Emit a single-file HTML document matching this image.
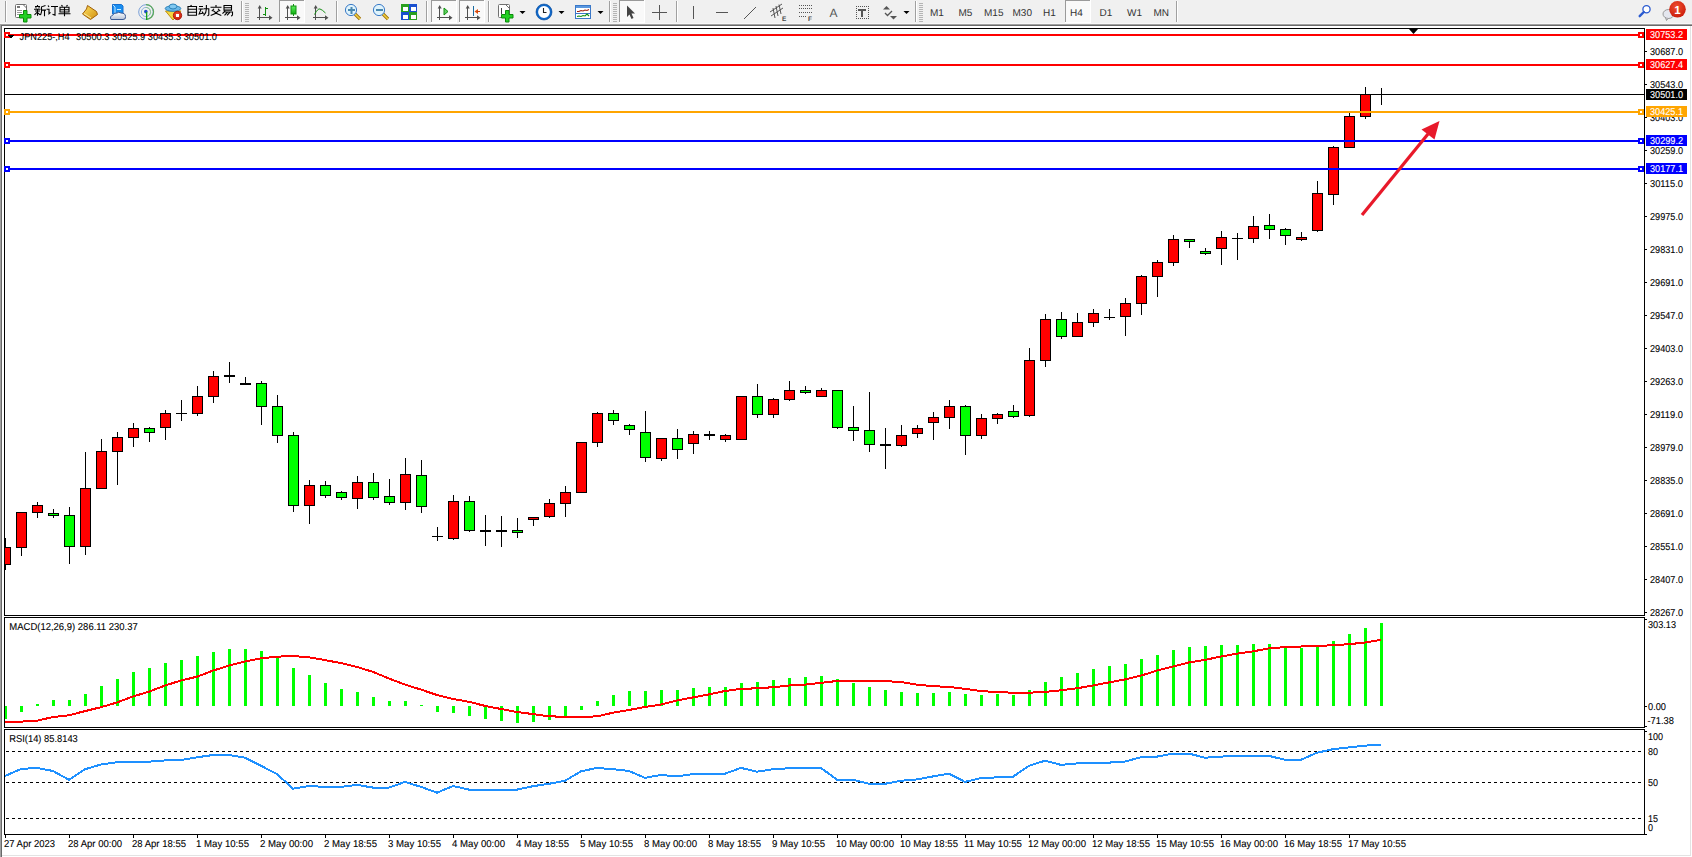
<!DOCTYPE html>
<html><head><meta charset="utf-8"><title>MT4</title>
<style>
html,body{margin:0;padding:0;background:#fff;}
body{width:1692px;height:857px;overflow:hidden;position:relative;font-family:"Liberation Sans", sans-serif;}
svg{position:absolute;left:0;top:0;display:block;}
svg text{font-family:"Liberation Sans", sans-serif;text-rendering:geometricPrecision;}
</style></head><body>
<svg width="1692" height="857" viewBox="0 0 1692 857" shape-rendering="crispEdges">
<rect x="0" y="0" width="1692" height="24" fill="#f0f0f0"/>
<rect x="0" y="23" width="1692" height="1" fill="#f7f7f7"/>
<rect x="0" y="24" width="1692" height="1" fill="#a0a0a0"/>
<rect x="0" y="25" width="1692" height="1" fill="#696969"/>
<rect x="0" y="24" width="1" height="833" fill="#a0a0a0"/>
<rect x="1" y="25" width="1" height="832" fill="#696969"/>
<rect x="1690" y="26" width="1" height="830" fill="#e3e3e3"/>
<rect x="2" y="855" width="1689" height="1" fill="#e3e3e3"/>
<rect x="4" y="28" width="1641" height="1" fill="#000"/>
<rect x="4" y="615" width="1641" height="1" fill="#000"/>
<rect x="4" y="28" width="1" height="588" fill="#000"/>
<rect x="1644" y="28" width="1" height="588" fill="#000"/>
<rect x="4" y="617" width="1641" height="1" fill="#000"/>
<rect x="4" y="727" width="1641" height="1" fill="#000"/>
<rect x="4" y="617" width="1" height="111" fill="#000"/>
<rect x="1644" y="617" width="1" height="111" fill="#000"/>
<rect x="4" y="729" width="1641" height="1" fill="#000"/>
<rect x="4" y="834" width="1641" height="1" fill="#000"/>
<rect x="4" y="729" width="1" height="106" fill="#000"/>
<rect x="1644" y="729" width="1" height="106" fill="#000"/>
<defs><clipPath id="cm"><rect x="5" y="29" width="1639" height="586"/></clipPath><clipPath id="cd"><rect x="5" y="618" width="1639" height="109"/></clipPath><clipPath id="cr"><rect x="5" y="730" width="1639" height="104"/></clipPath></defs>
<rect x="1645" y="51" width="2" height="1" fill="#000"/>
<text x="1650" y="55" font-size="10.0" fill="#000" stroke="#000" stroke-width="0.1" textLength="33" lengthAdjust="spacingAndGlyphs">30687.0</text>
<rect x="1645" y="84" width="2" height="1" fill="#000"/>
<text x="1650" y="88" font-size="10.0" fill="#000" stroke="#000" stroke-width="0.1" textLength="33" lengthAdjust="spacingAndGlyphs">30543.0</text>
<rect x="1645" y="117" width="2" height="1" fill="#000"/>
<text x="1650" y="121" font-size="10.0" fill="#000" stroke="#000" stroke-width="0.1" textLength="33" lengthAdjust="spacingAndGlyphs">30403.0</text>
<rect x="1645" y="150" width="2" height="1" fill="#000"/>
<text x="1650" y="154" font-size="10.0" fill="#000" stroke="#000" stroke-width="0.1" textLength="33" lengthAdjust="spacingAndGlyphs">30259.0</text>
<rect x="1645" y="183" width="2" height="1" fill="#000"/>
<text x="1650" y="187" font-size="10.0" fill="#000" stroke="#000" stroke-width="0.1" textLength="33" lengthAdjust="spacingAndGlyphs">30115.0</text>
<rect x="1645" y="216" width="2" height="1" fill="#000"/>
<text x="1650" y="220" font-size="10.0" fill="#000" stroke="#000" stroke-width="0.1" textLength="33" lengthAdjust="spacingAndGlyphs">29975.0</text>
<rect x="1645" y="249" width="2" height="1" fill="#000"/>
<text x="1650" y="253" font-size="10.0" fill="#000" stroke="#000" stroke-width="0.1" textLength="33" lengthAdjust="spacingAndGlyphs">29831.0</text>
<rect x="1645" y="282" width="2" height="1" fill="#000"/>
<text x="1650" y="286" font-size="10.0" fill="#000" stroke="#000" stroke-width="0.1" textLength="33" lengthAdjust="spacingAndGlyphs">29691.0</text>
<rect x="1645" y="315" width="2" height="1" fill="#000"/>
<text x="1650" y="319" font-size="10.0" fill="#000" stroke="#000" stroke-width="0.1" textLength="33" lengthAdjust="spacingAndGlyphs">29547.0</text>
<rect x="1645" y="348" width="2" height="1" fill="#000"/>
<text x="1650" y="352" font-size="10.0" fill="#000" stroke="#000" stroke-width="0.1" textLength="33" lengthAdjust="spacingAndGlyphs">29403.0</text>
<rect x="1645" y="381" width="2" height="1" fill="#000"/>
<text x="1650" y="385" font-size="10.0" fill="#000" stroke="#000" stroke-width="0.1" textLength="33" lengthAdjust="spacingAndGlyphs">29263.0</text>
<rect x="1645" y="414" width="2" height="1" fill="#000"/>
<text x="1650" y="418" font-size="10.0" fill="#000" stroke="#000" stroke-width="0.1" textLength="33" lengthAdjust="spacingAndGlyphs">29119.0</text>
<rect x="1645" y="447" width="2" height="1" fill="#000"/>
<text x="1650" y="451" font-size="10.0" fill="#000" stroke="#000" stroke-width="0.1" textLength="33" lengthAdjust="spacingAndGlyphs">28979.0</text>
<rect x="1645" y="480" width="2" height="1" fill="#000"/>
<text x="1650" y="484" font-size="10.0" fill="#000" stroke="#000" stroke-width="0.1" textLength="33" lengthAdjust="spacingAndGlyphs">28835.0</text>
<rect x="1645" y="513" width="2" height="1" fill="#000"/>
<text x="1650" y="517" font-size="10.0" fill="#000" stroke="#000" stroke-width="0.1" textLength="33" lengthAdjust="spacingAndGlyphs">28691.0</text>
<rect x="1645" y="546" width="2" height="1" fill="#000"/>
<text x="1650" y="550" font-size="10.0" fill="#000" stroke="#000" stroke-width="0.1" textLength="33" lengthAdjust="spacingAndGlyphs">28551.0</text>
<rect x="1645" y="579" width="2" height="1" fill="#000"/>
<text x="1650" y="583" font-size="10.0" fill="#000" stroke="#000" stroke-width="0.1" textLength="33" lengthAdjust="spacingAndGlyphs">28407.0</text>
<rect x="1645" y="612" width="2" height="1" fill="#000"/>
<text x="1650" y="616" font-size="10.0" fill="#000" stroke="#000" stroke-width="0.1" textLength="33" lengthAdjust="spacingAndGlyphs">28267.0</text>
<g clip-path="url(#cm)">
<rect x="5" y="538" width="1" height="32" fill="#000"/>
<rect x="0" y="547" width="11" height="18" fill="#000"/>
<rect x="1" y="548" width="9" height="16" fill="#ff0000"/>
<rect x="21" y="512" width="1" height="44" fill="#000"/>
<rect x="16" y="512" width="11" height="36" fill="#000"/>
<rect x="17" y="513" width="9" height="34" fill="#ff0000"/>
<rect x="37" y="502" width="1" height="16" fill="#000"/>
<rect x="32" y="505" width="11" height="8" fill="#000"/>
<rect x="33" y="506" width="9" height="6" fill="#ff0000"/>
<rect x="53" y="509" width="1" height="9" fill="#000"/>
<rect x="48" y="513" width="11" height="3" fill="#000"/>
<rect x="49" y="514" width="9" height="1" fill="#00ff00"/>
<rect x="69" y="507" width="1" height="57" fill="#000"/>
<rect x="64" y="515" width="11" height="32" fill="#000"/>
<rect x="65" y="516" width="9" height="30" fill="#00ff00"/>
<rect x="85" y="452" width="1" height="103" fill="#000"/>
<rect x="80" y="488" width="11" height="59" fill="#000"/>
<rect x="81" y="489" width="9" height="57" fill="#ff0000"/>
<rect x="101" y="439" width="1" height="49" fill="#000"/>
<rect x="96" y="451" width="11" height="38" fill="#000"/>
<rect x="97" y="452" width="9" height="36" fill="#ff0000"/>
<rect x="117" y="432" width="1" height="53" fill="#000"/>
<rect x="112" y="437" width="11" height="15" fill="#000"/>
<rect x="113" y="438" width="9" height="13" fill="#ff0000"/>
<rect x="133" y="423" width="1" height="24" fill="#000"/>
<rect x="128" y="428" width="11" height="10" fill="#000"/>
<rect x="129" y="429" width="9" height="8" fill="#ff0000"/>
<rect x="149" y="427" width="1" height="15" fill="#000"/>
<rect x="144" y="428" width="11" height="5" fill="#000"/>
<rect x="145" y="429" width="9" height="3" fill="#00ff00"/>
<rect x="165" y="410" width="1" height="30" fill="#000"/>
<rect x="160" y="413" width="11" height="15" fill="#000"/>
<rect x="161" y="414" width="9" height="13" fill="#ff0000"/>
<rect x="181" y="400" width="1" height="21" fill="#000"/>
<rect x="176" y="413" width="11" height="1" fill="#000"/>
<rect x="197" y="386" width="1" height="30" fill="#000"/>
<rect x="192" y="396" width="11" height="18" fill="#000"/>
<rect x="193" y="397" width="9" height="16" fill="#ff0000"/>
<rect x="213" y="371" width="1" height="32" fill="#000"/>
<rect x="208" y="376" width="11" height="21" fill="#000"/>
<rect x="209" y="377" width="9" height="19" fill="#ff0000"/>
<rect x="229" y="362" width="1" height="21" fill="#000"/>
<rect x="224" y="375" width="11" height="2" fill="#000"/>
<rect x="245" y="377" width="1" height="8" fill="#000"/>
<rect x="240" y="383" width="11" height="2" fill="#000"/>
<rect x="261" y="381" width="1" height="44" fill="#000"/>
<rect x="256" y="383" width="11" height="24" fill="#000"/>
<rect x="257" y="384" width="9" height="22" fill="#00ff00"/>
<rect x="277" y="395" width="1" height="48" fill="#000"/>
<rect x="272" y="406" width="11" height="30" fill="#000"/>
<rect x="273" y="407" width="9" height="28" fill="#00ff00"/>
<rect x="293" y="432" width="1" height="80" fill="#000"/>
<rect x="288" y="435" width="11" height="71" fill="#000"/>
<rect x="289" y="436" width="9" height="69" fill="#00ff00"/>
<rect x="309" y="480" width="1" height="44" fill="#000"/>
<rect x="304" y="485" width="11" height="21" fill="#000"/>
<rect x="305" y="486" width="9" height="19" fill="#ff0000"/>
<rect x="325" y="481" width="1" height="17" fill="#000"/>
<rect x="320" y="485" width="11" height="11" fill="#000"/>
<rect x="321" y="486" width="9" height="9" fill="#00ff00"/>
<rect x="341" y="491" width="1" height="9" fill="#000"/>
<rect x="336" y="492" width="11" height="6" fill="#000"/>
<rect x="337" y="493" width="9" height="4" fill="#00ff00"/>
<rect x="357" y="476" width="1" height="33" fill="#000"/>
<rect x="352" y="482" width="11" height="17" fill="#000"/>
<rect x="353" y="483" width="9" height="15" fill="#ff0000"/>
<rect x="373" y="473" width="1" height="27" fill="#000"/>
<rect x="368" y="482" width="11" height="16" fill="#000"/>
<rect x="369" y="483" width="9" height="14" fill="#00ff00"/>
<rect x="389" y="479" width="1" height="26" fill="#000"/>
<rect x="384" y="496" width="11" height="7" fill="#000"/>
<rect x="385" y="497" width="9" height="5" fill="#00ff00"/>
<rect x="405" y="458" width="1" height="52" fill="#000"/>
<rect x="400" y="474" width="11" height="29" fill="#000"/>
<rect x="401" y="475" width="9" height="27" fill="#ff0000"/>
<rect x="421" y="460" width="1" height="53" fill="#000"/>
<rect x="416" y="475" width="11" height="32" fill="#000"/>
<rect x="417" y="476" width="9" height="30" fill="#00ff00"/>
<rect x="437" y="527" width="1" height="14" fill="#000"/>
<rect x="432" y="536" width="11" height="1" fill="#000"/>
<rect x="453" y="495" width="1" height="45" fill="#000"/>
<rect x="448" y="501" width="11" height="38" fill="#000"/>
<rect x="449" y="502" width="9" height="36" fill="#ff0000"/>
<rect x="469" y="496" width="1" height="36" fill="#000"/>
<rect x="464" y="501" width="11" height="30" fill="#000"/>
<rect x="465" y="502" width="9" height="28" fill="#00ff00"/>
<rect x="485" y="515" width="1" height="31" fill="#000"/>
<rect x="480" y="530" width="11" height="2" fill="#000"/>
<rect x="501" y="516" width="1" height="31" fill="#000"/>
<rect x="496" y="530" width="11" height="2" fill="#000"/>
<rect x="517" y="518" width="1" height="20" fill="#000"/>
<rect x="512" y="530" width="11" height="3" fill="#000"/>
<rect x="513" y="531" width="9" height="1" fill="#00ff00"/>
<rect x="533" y="517" width="1" height="9" fill="#000"/>
<rect x="528" y="517" width="11" height="3" fill="#000"/>
<rect x="529" y="518" width="9" height="1" fill="#ff0000"/>
<rect x="549" y="499" width="1" height="19" fill="#000"/>
<rect x="544" y="503" width="11" height="14" fill="#000"/>
<rect x="545" y="504" width="9" height="12" fill="#ff0000"/>
<rect x="565" y="486" width="1" height="31" fill="#000"/>
<rect x="560" y="492" width="11" height="12" fill="#000"/>
<rect x="561" y="493" width="9" height="10" fill="#ff0000"/>
<rect x="581" y="442" width="1" height="51" fill="#000"/>
<rect x="576" y="442" width="11" height="51" fill="#000"/>
<rect x="577" y="443" width="9" height="49" fill="#ff0000"/>
<rect x="597" y="412" width="1" height="35" fill="#000"/>
<rect x="592" y="413" width="11" height="30" fill="#000"/>
<rect x="593" y="414" width="9" height="28" fill="#ff0000"/>
<rect x="613" y="410" width="1" height="15" fill="#000"/>
<rect x="608" y="413" width="11" height="8" fill="#000"/>
<rect x="609" y="414" width="9" height="6" fill="#00ff00"/>
<rect x="629" y="424" width="1" height="11" fill="#000"/>
<rect x="624" y="425" width="11" height="5" fill="#000"/>
<rect x="625" y="426" width="9" height="3" fill="#00ff00"/>
<rect x="645" y="411" width="1" height="51" fill="#000"/>
<rect x="640" y="432" width="11" height="26" fill="#000"/>
<rect x="641" y="433" width="9" height="24" fill="#00ff00"/>
<rect x="661" y="438" width="1" height="23" fill="#000"/>
<rect x="656" y="438" width="11" height="21" fill="#000"/>
<rect x="657" y="439" width="9" height="19" fill="#ff0000"/>
<rect x="677" y="429" width="1" height="30" fill="#000"/>
<rect x="672" y="438" width="11" height="12" fill="#000"/>
<rect x="673" y="439" width="9" height="10" fill="#00ff00"/>
<rect x="693" y="431" width="1" height="23" fill="#000"/>
<rect x="688" y="434" width="11" height="10" fill="#000"/>
<rect x="689" y="435" width="9" height="8" fill="#ff0000"/>
<rect x="709" y="431" width="1" height="9" fill="#000"/>
<rect x="704" y="434" width="11" height="2" fill="#000"/>
<rect x="725" y="434" width="1" height="8" fill="#000"/>
<rect x="720" y="435" width="11" height="5" fill="#000"/>
<rect x="721" y="436" width="9" height="3" fill="#ff0000"/>
<rect x="741" y="396" width="1" height="44" fill="#000"/>
<rect x="736" y="396" width="11" height="44" fill="#000"/>
<rect x="737" y="397" width="9" height="42" fill="#ff0000"/>
<rect x="757" y="384" width="1" height="34" fill="#000"/>
<rect x="752" y="396" width="11" height="19" fill="#000"/>
<rect x="753" y="397" width="9" height="17" fill="#00ff00"/>
<rect x="773" y="398" width="1" height="20" fill="#000"/>
<rect x="768" y="399" width="11" height="16" fill="#000"/>
<rect x="769" y="400" width="9" height="14" fill="#ff0000"/>
<rect x="789" y="381" width="1" height="20" fill="#000"/>
<rect x="784" y="390" width="11" height="10" fill="#000"/>
<rect x="785" y="391" width="9" height="8" fill="#ff0000"/>
<rect x="805" y="386" width="1" height="8" fill="#000"/>
<rect x="800" y="390" width="11" height="3" fill="#000"/>
<rect x="801" y="391" width="9" height="1" fill="#00ff00"/>
<rect x="821" y="388" width="1" height="8" fill="#000"/>
<rect x="816" y="390" width="11" height="7" fill="#000"/>
<rect x="817" y="391" width="9" height="5" fill="#ff0000"/>
<rect x="837" y="390" width="1" height="39" fill="#000"/>
<rect x="832" y="390" width="11" height="38" fill="#000"/>
<rect x="833" y="391" width="9" height="36" fill="#00ff00"/>
<rect x="853" y="406" width="1" height="35" fill="#000"/>
<rect x="848" y="427" width="11" height="4" fill="#000"/>
<rect x="849" y="428" width="9" height="2" fill="#00ff00"/>
<rect x="869" y="392" width="1" height="60" fill="#000"/>
<rect x="864" y="430" width="11" height="15" fill="#000"/>
<rect x="865" y="431" width="9" height="13" fill="#00ff00"/>
<rect x="885" y="428" width="1" height="41" fill="#000"/>
<rect x="880" y="444" width="11" height="2" fill="#000"/>
<rect x="901" y="425" width="1" height="22" fill="#000"/>
<rect x="896" y="435" width="11" height="11" fill="#000"/>
<rect x="897" y="436" width="9" height="9" fill="#ff0000"/>
<rect x="917" y="425" width="1" height="13" fill="#000"/>
<rect x="912" y="428" width="11" height="6" fill="#000"/>
<rect x="913" y="429" width="9" height="4" fill="#ff0000"/>
<rect x="933" y="412" width="1" height="28" fill="#000"/>
<rect x="928" y="417" width="11" height="6" fill="#000"/>
<rect x="929" y="418" width="9" height="4" fill="#ff0000"/>
<rect x="949" y="400" width="1" height="29" fill="#000"/>
<rect x="944" y="406" width="11" height="12" fill="#000"/>
<rect x="945" y="407" width="9" height="10" fill="#ff0000"/>
<rect x="965" y="405" width="1" height="50" fill="#000"/>
<rect x="960" y="406" width="11" height="30" fill="#000"/>
<rect x="961" y="407" width="9" height="28" fill="#00ff00"/>
<rect x="981" y="414" width="1" height="25" fill="#000"/>
<rect x="976" y="418" width="11" height="18" fill="#000"/>
<rect x="977" y="419" width="9" height="16" fill="#ff0000"/>
<rect x="997" y="413" width="1" height="11" fill="#000"/>
<rect x="992" y="414" width="11" height="5" fill="#000"/>
<rect x="993" y="415" width="9" height="3" fill="#ff0000"/>
<rect x="1013" y="405" width="1" height="13" fill="#000"/>
<rect x="1008" y="411" width="11" height="6" fill="#000"/>
<rect x="1009" y="412" width="9" height="4" fill="#00ff00"/>
<rect x="1029" y="348" width="1" height="69" fill="#000"/>
<rect x="1024" y="360" width="11" height="56" fill="#000"/>
<rect x="1025" y="361" width="9" height="54" fill="#ff0000"/>
<rect x="1045" y="314" width="1" height="53" fill="#000"/>
<rect x="1040" y="319" width="11" height="42" fill="#000"/>
<rect x="1041" y="320" width="9" height="40" fill="#ff0000"/>
<rect x="1061" y="312" width="1" height="27" fill="#000"/>
<rect x="1056" y="319" width="11" height="18" fill="#000"/>
<rect x="1057" y="320" width="9" height="16" fill="#00ff00"/>
<rect x="1077" y="313" width="1" height="24" fill="#000"/>
<rect x="1072" y="322" width="11" height="15" fill="#000"/>
<rect x="1073" y="323" width="9" height="13" fill="#ff0000"/>
<rect x="1093" y="309" width="1" height="18" fill="#000"/>
<rect x="1088" y="313" width="11" height="10" fill="#000"/>
<rect x="1089" y="314" width="9" height="8" fill="#ff0000"/>
<rect x="1109" y="309" width="1" height="11" fill="#000"/>
<rect x="1104" y="317" width="11" height="1" fill="#000"/>
<rect x="1125" y="298" width="1" height="38" fill="#000"/>
<rect x="1120" y="303" width="11" height="14" fill="#000"/>
<rect x="1121" y="304" width="9" height="12" fill="#ff0000"/>
<rect x="1141" y="275" width="1" height="40" fill="#000"/>
<rect x="1136" y="276" width="11" height="28" fill="#000"/>
<rect x="1137" y="277" width="9" height="26" fill="#ff0000"/>
<rect x="1157" y="260" width="1" height="37" fill="#000"/>
<rect x="1152" y="262" width="11" height="15" fill="#000"/>
<rect x="1153" y="263" width="9" height="13" fill="#ff0000"/>
<rect x="1173" y="235" width="1" height="31" fill="#000"/>
<rect x="1168" y="239" width="11" height="24" fill="#000"/>
<rect x="1169" y="240" width="9" height="22" fill="#ff0000"/>
<rect x="1189" y="239" width="1" height="9" fill="#000"/>
<rect x="1184" y="239" width="11" height="3" fill="#000"/>
<rect x="1185" y="240" width="9" height="1" fill="#00ff00"/>
<rect x="1205" y="248" width="1" height="7" fill="#000"/>
<rect x="1200" y="251" width="11" height="3" fill="#000"/>
<rect x="1201" y="252" width="9" height="1" fill="#00ff00"/>
<rect x="1221" y="231" width="1" height="34" fill="#000"/>
<rect x="1216" y="237" width="11" height="12" fill="#000"/>
<rect x="1217" y="238" width="9" height="10" fill="#ff0000"/>
<rect x="1237" y="233" width="1" height="27" fill="#000"/>
<rect x="1232" y="238" width="11" height="1" fill="#000"/>
<rect x="1253" y="216" width="1" height="27" fill="#000"/>
<rect x="1248" y="226" width="11" height="13" fill="#000"/>
<rect x="1249" y="227" width="9" height="11" fill="#ff0000"/>
<rect x="1269" y="214" width="1" height="25" fill="#000"/>
<rect x="1264" y="225" width="11" height="5" fill="#000"/>
<rect x="1265" y="226" width="9" height="3" fill="#00ff00"/>
<rect x="1285" y="228" width="1" height="17" fill="#000"/>
<rect x="1280" y="229" width="11" height="7" fill="#000"/>
<rect x="1281" y="230" width="9" height="5" fill="#00ff00"/>
<rect x="1301" y="232" width="1" height="9" fill="#000"/>
<rect x="1296" y="237" width="11" height="3" fill="#000"/>
<rect x="1297" y="238" width="9" height="1" fill="#ff0000"/>
<rect x="1317" y="181" width="1" height="51" fill="#000"/>
<rect x="1312" y="193" width="11" height="38" fill="#000"/>
<rect x="1313" y="194" width="9" height="36" fill="#ff0000"/>
<rect x="1333" y="146" width="1" height="59" fill="#000"/>
<rect x="1328" y="147" width="11" height="48" fill="#000"/>
<rect x="1329" y="148" width="9" height="46" fill="#ff0000"/>
<rect x="1349" y="113" width="1" height="35" fill="#000"/>
<rect x="1344" y="116" width="11" height="32" fill="#000"/>
<rect x="1345" y="117" width="9" height="30" fill="#ff0000"/>
<rect x="1365" y="87" width="1" height="32" fill="#000"/>
<rect x="1360" y="94" width="11" height="23" fill="#000"/>
<rect x="1361" y="95" width="9" height="21" fill="#ff0000"/>
<rect x="1381" y="88" width="1" height="17" fill="#000"/>
<rect x="1376" y="94" width="11" height="1" fill="#000"/>
</g>
<rect x="5" y="34" width="1639" height="2" fill="#ff0000"/>
<rect x="4" y="32" width="6" height="6" fill="#ff0000"/>
<rect x="6" y="34" width="2" height="2" fill="#fff"/>
<rect x="1638" y="32" width="6" height="6" fill="#ff0000"/>
<rect x="1640" y="34" width="2" height="2" fill="#fff"/>
<rect x="5" y="64" width="1639" height="2" fill="#ff0000"/>
<rect x="4" y="62" width="6" height="6" fill="#ff0000"/>
<rect x="6" y="64" width="2" height="2" fill="#fff"/>
<rect x="1638" y="62" width="6" height="6" fill="#ff0000"/>
<rect x="1640" y="64" width="2" height="2" fill="#fff"/>
<rect x="5" y="94" width="1639" height="1" fill="#000"/>
<rect x="5" y="111" width="1639" height="2" fill="#ffa500"/>
<rect x="4" y="109" width="6" height="6" fill="#ffa500"/>
<rect x="6" y="111" width="2" height="2" fill="#fff"/>
<rect x="1638" y="109" width="6" height="6" fill="#ffa500"/>
<rect x="1640" y="111" width="2" height="2" fill="#fff"/>
<rect x="5" y="140" width="1639" height="2" fill="#0000ff"/>
<rect x="4" y="138" width="6" height="6" fill="#0000ff"/>
<rect x="6" y="140" width="2" height="2" fill="#fff"/>
<rect x="1638" y="138" width="6" height="6" fill="#0000ff"/>
<rect x="1640" y="140" width="2" height="2" fill="#fff"/>
<rect x="5" y="168" width="1639" height="2" fill="#0000ff"/>
<rect x="4" y="166" width="6" height="6" fill="#0000ff"/>
<rect x="6" y="168" width="2" height="2" fill="#fff"/>
<rect x="1638" y="166" width="6" height="6" fill="#0000ff"/>
<rect x="1640" y="168" width="2" height="2" fill="#fff"/>
<rect x="1646" y="29" width="41" height="11" fill="#ff0000"/>
<text x="1650" y="38" font-size="10.0" fill="#fff" stroke="#fff" stroke-width="0.1" textLength="33" lengthAdjust="spacingAndGlyphs">30753.2</text>
<rect x="1646" y="59" width="41" height="11" fill="#ff0000"/>
<text x="1650" y="68" font-size="10.0" fill="#fff" stroke="#fff" stroke-width="0.1" textLength="33" lengthAdjust="spacingAndGlyphs">30627.4</text>
<rect x="1646" y="89" width="41" height="11" fill="#000000"/>
<text x="1650" y="98" font-size="10.0" fill="#fff" stroke="#fff" stroke-width="0.1" textLength="33" lengthAdjust="spacingAndGlyphs">30501.0</text>
<rect x="1646" y="106" width="41" height="11" fill="#ffa500"/>
<text x="1650" y="115" font-size="10.0" fill="#fff" stroke="#fff" stroke-width="0.1" textLength="33" lengthAdjust="spacingAndGlyphs">30425.1</text>
<rect x="1646" y="135" width="41" height="11" fill="#0000ff"/>
<text x="1650" y="144" font-size="10.0" fill="#fff" stroke="#fff" stroke-width="0.1" textLength="33" lengthAdjust="spacingAndGlyphs">30299.2</text>
<rect x="1646" y="163" width="41" height="11" fill="#0000ff"/>
<text x="1650" y="172" font-size="10.0" fill="#fff" stroke="#fff" stroke-width="0.1" textLength="33" lengthAdjust="spacingAndGlyphs">30177.1</text>
<polygon points="1408.5,28.5 1418.5,28.5 1413.5,34" fill="#000" shape-rendering="auto"/>
<polygon points="8,35 14,35 11,39" fill="#000"/>
<text x="19.6" y="40" font-size="10.0" fill="#000" stroke="#000" stroke-width="0.1" textLength="50.0" lengthAdjust="spacingAndGlyphs">JPN225-,H4</text>
<text x="76" y="40" font-size="10.0" fill="#000" stroke="#000" stroke-width="0.1" textLength="141" lengthAdjust="spacingAndGlyphs">30500.3 30525.9 30435.3 30501.0</text>
<g shape-rendering="auto"><line x1="1362" y1="215" x2="1428" y2="134" stroke="#e8192a" stroke-width="3.2"/><polygon points="1439.5,121 1421.5,129.5 1434.5,139.5" fill="#e8192a"/></g>
<g clip-path="url(#cd)">
<rect x="4" y="706" width="3" height="13" fill="#00ff00"/>
<rect x="20" y="706" width="3" height="6" fill="#00ff00"/>
<rect x="36" y="704" width="3" height="2" fill="#00ff00"/>
<rect x="52" y="700" width="3" height="6" fill="#00ff00"/>
<rect x="68" y="700" width="3" height="6" fill="#00ff00"/>
<rect x="84" y="694" width="3" height="12" fill="#00ff00"/>
<rect x="100" y="686" width="3" height="20" fill="#00ff00"/>
<rect x="116" y="679" width="3" height="27" fill="#00ff00"/>
<rect x="132" y="672" width="3" height="34" fill="#00ff00"/>
<rect x="148" y="668" width="3" height="38" fill="#00ff00"/>
<rect x="164" y="663" width="3" height="43" fill="#00ff00"/>
<rect x="180" y="660" width="3" height="46" fill="#00ff00"/>
<rect x="196" y="656" width="3" height="50" fill="#00ff00"/>
<rect x="212" y="652" width="3" height="54" fill="#00ff00"/>
<rect x="228" y="649" width="3" height="57" fill="#00ff00"/>
<rect x="244" y="649" width="3" height="57" fill="#00ff00"/>
<rect x="260" y="651" width="3" height="55" fill="#00ff00"/>
<rect x="276" y="657" width="3" height="49" fill="#00ff00"/>
<rect x="292" y="668" width="3" height="38" fill="#00ff00"/>
<rect x="308" y="675" width="3" height="31" fill="#00ff00"/>
<rect x="324" y="683" width="3" height="23" fill="#00ff00"/>
<rect x="340" y="689" width="3" height="17" fill="#00ff00"/>
<rect x="356" y="692" width="3" height="14" fill="#00ff00"/>
<rect x="372" y="697" width="3" height="9" fill="#00ff00"/>
<rect x="388" y="701" width="3" height="5" fill="#00ff00"/>
<rect x="404" y="701" width="3" height="5" fill="#00ff00"/>
<rect x="420" y="705" width="3" height="1" fill="#00ff00"/>
<rect x="436" y="706" width="3" height="6" fill="#00ff00"/>
<rect x="452" y="706" width="3" height="7" fill="#00ff00"/>
<rect x="468" y="706" width="3" height="10" fill="#00ff00"/>
<rect x="484" y="706" width="3" height="13" fill="#00ff00"/>
<rect x="500" y="706" width="3" height="15" fill="#00ff00"/>
<rect x="516" y="706" width="3" height="17" fill="#00ff00"/>
<rect x="532" y="706" width="3" height="16" fill="#00ff00"/>
<rect x="548" y="706" width="3" height="14" fill="#00ff00"/>
<rect x="564" y="706" width="3" height="10" fill="#00ff00"/>
<rect x="580" y="706" width="3" height="4" fill="#00ff00"/>
<rect x="596" y="701" width="3" height="5" fill="#00ff00"/>
<rect x="612" y="695" width="3" height="11" fill="#00ff00"/>
<rect x="628" y="691" width="3" height="15" fill="#00ff00"/>
<rect x="644" y="691" width="3" height="15" fill="#00ff00"/>
<rect x="660" y="690" width="3" height="16" fill="#00ff00"/>
<rect x="676" y="690" width="3" height="16" fill="#00ff00"/>
<rect x="692" y="688" width="3" height="18" fill="#00ff00"/>
<rect x="708" y="687" width="3" height="19" fill="#00ff00"/>
<rect x="724" y="687" width="3" height="19" fill="#00ff00"/>
<rect x="740" y="683" width="3" height="23" fill="#00ff00"/>
<rect x="756" y="682" width="3" height="24" fill="#00ff00"/>
<rect x="772" y="680" width="3" height="26" fill="#00ff00"/>
<rect x="788" y="678" width="3" height="28" fill="#00ff00"/>
<rect x="804" y="677" width="3" height="29" fill="#00ff00"/>
<rect x="820" y="676" width="3" height="30" fill="#00ff00"/>
<rect x="836" y="679" width="3" height="27" fill="#00ff00"/>
<rect x="852" y="683" width="3" height="23" fill="#00ff00"/>
<rect x="868" y="687" width="3" height="19" fill="#00ff00"/>
<rect x="884" y="690" width="3" height="16" fill="#00ff00"/>
<rect x="900" y="692" width="3" height="14" fill="#00ff00"/>
<rect x="916" y="693" width="3" height="13" fill="#00ff00"/>
<rect x="932" y="693" width="3" height="13" fill="#00ff00"/>
<rect x="948" y="692" width="3" height="14" fill="#00ff00"/>
<rect x="964" y="694" width="3" height="12" fill="#00ff00"/>
<rect x="980" y="695" width="3" height="11" fill="#00ff00"/>
<rect x="996" y="694" width="3" height="12" fill="#00ff00"/>
<rect x="1012" y="695" width="3" height="11" fill="#00ff00"/>
<rect x="1028" y="690" width="3" height="16" fill="#00ff00"/>
<rect x="1044" y="682" width="3" height="24" fill="#00ff00"/>
<rect x="1060" y="677" width="3" height="29" fill="#00ff00"/>
<rect x="1076" y="673" width="3" height="33" fill="#00ff00"/>
<rect x="1092" y="669" width="3" height="37" fill="#00ff00"/>
<rect x="1108" y="666" width="3" height="40" fill="#00ff00"/>
<rect x="1124" y="664" width="3" height="42" fill="#00ff00"/>
<rect x="1140" y="659" width="3" height="47" fill="#00ff00"/>
<rect x="1156" y="655" width="3" height="51" fill="#00ff00"/>
<rect x="1172" y="650" width="3" height="56" fill="#00ff00"/>
<rect x="1188" y="647" width="3" height="59" fill="#00ff00"/>
<rect x="1204" y="646" width="3" height="60" fill="#00ff00"/>
<rect x="1220" y="645" width="3" height="61" fill="#00ff00"/>
<rect x="1236" y="645" width="3" height="61" fill="#00ff00"/>
<rect x="1252" y="644" width="3" height="62" fill="#00ff00"/>
<rect x="1268" y="644" width="3" height="62" fill="#00ff00"/>
<rect x="1284" y="646" width="3" height="60" fill="#00ff00"/>
<rect x="1300" y="648" width="3" height="58" fill="#00ff00"/>
<rect x="1316" y="647" width="3" height="59" fill="#00ff00"/>
<rect x="1332" y="641" width="3" height="65" fill="#00ff00"/>
<rect x="1348" y="634" width="3" height="72" fill="#00ff00"/>
<rect x="1364" y="628" width="3" height="78" fill="#00ff00"/>
<rect x="1380" y="623" width="3" height="83" fill="#00ff00"/>
<polyline points="5,721.9 21,721.6 37,720.7 53,717.0 69,715.3 85,711.1 101,707.2 117,702.5 133,696.5 149,691.7 165,685.5 181,680.5 197,676.7 213,670.6 229,665.6 245,661.5 261,658.3 277,656.7 293,656.0 309,657.3 325,660.1 341,663.1 357,666.9 373,671.9 389,678.5 405,684.6 421,689.6 437,695.0 453,698.9 469,701.8 485,705.9 501,709.0 517,712.0 533,714.1 549,716.3 565,716.8 581,716.8 597,716.4 613,712.7 629,710.0 645,706.9 661,704.6 677,700.5 693,697.4 709,694.4 725,691.0 741,688.9 757,688.3 773,687.2 789,685.5 805,684.6 821,682.8 837,681.0 853,680.8 869,680.8 885,681.0 901,682.1 917,684.6 933,686.2 949,686.9 965,688.9 981,691.0 997,692.1 1013,692.7 1029,692.7 1045,691.9 1061,690.3 1077,688.3 1093,685.5 1109,682.4 1125,679.4 1141,675.6 1157,670.6 1173,666.6 1189,662.4 1205,659.9 1221,656.5 1237,653.7 1253,651.4 1269,648.3 1285,647.2 1301,646.5 1317,646.0 1333,645.2 1349,644.2 1365,642.5 1381,639.9" fill="none" stroke="#ff0000" stroke-width="2"/>
</g>
<text x="9.3" y="630" font-size="10.0" fill="#000" stroke="#000" stroke-width="0.1" textLength="128.5" lengthAdjust="spacingAndGlyphs">MACD(12,26,9) 286.11 230.37</text>
<rect x="1645" y="619" width="2" height="1" fill="#000"/>
<rect x="1645" y="706" width="2" height="1" fill="#000"/>
<rect x="1645" y="726" width="2" height="1" fill="#000"/>
<text x="1648" y="628" font-size="10.0" fill="#000" stroke="#000" stroke-width="0.1" textLength="28" lengthAdjust="spacingAndGlyphs">303.13</text>
<text x="1648" y="710" font-size="10.0" fill="#000" stroke="#000" stroke-width="0.1" textLength="18" lengthAdjust="spacingAndGlyphs">0.00</text>
<text x="1647.5" y="724" font-size="10.0" fill="#000" stroke="#000" stroke-width="0.1" textLength="26.5" lengthAdjust="spacingAndGlyphs">-71.38</text>
<line x1="6" y1="751.5" x2="1642" y2="751.5" stroke="#000" stroke-width="1" stroke-dasharray="3,3"/>
<line x1="6" y1="782.5" x2="1642" y2="782.5" stroke="#000" stroke-width="1" stroke-dasharray="3,3"/>
<line x1="6" y1="818.5" x2="1642" y2="818.5" stroke="#000" stroke-width="1" stroke-dasharray="3,3"/>
<g clip-path="url(#cr)">
<polyline points="5,776.0 21,769.0 37,767.9 53,771.0 69,779.8 85,769.2 101,764.5 117,762.2 133,761.7 149,761.7 165,760.4 181,760.0 197,757.3 213,755.0 229,755.0 245,757.7 261,765.8 277,774.0 293,788.7 309,786.0 325,786.9 341,786.9 357,784.9 373,787.6 389,787.6 405,781.9 421,786.9 437,792.7 453,786.0 469,789.6 485,789.6 501,789.6 517,789.6 533,786.2 549,783.8 565,780.8 581,771.3 597,767.9 613,769.2 629,771.0 645,777.8 661,775.0 677,776.4 693,774.0 709,773.7 725,773.7 741,767.9 757,771.7 773,769.2 789,768.3 805,767.9 821,767.9 837,779.8 853,779.8 869,783.8 885,783.8 901,780.8 917,779.4 933,776.4 949,773.7 965,781.9 981,778.0 997,777.4 1013,776.7 1029,765.8 1045,760.7 1061,764.9 1077,763.4 1093,762.7 1109,762.6 1125,761.6 1141,757.2 1157,756.6 1173,753.6 1189,753.6 1205,757.7 1221,756.6 1237,755.9 1253,755.9 1269,755.9 1285,759.8 1301,759.8 1317,752.7 1333,749.2 1349,747.4 1365,745.6 1381,744.8" fill="none" stroke="#1e90ff" stroke-width="2"/>
</g>
<text x="9.3" y="742" font-size="10.0" fill="#000" stroke="#000" stroke-width="0.1" textLength="68.5" lengthAdjust="spacingAndGlyphs">RSI(14) 85.8143</text>
<rect x="1645" y="731" width="2" height="1" fill="#000"/>
<rect x="1645" y="834" width="2" height="1" fill="#000"/>
<text x="1648" y="740" font-size="10.0" fill="#000" stroke="#000" stroke-width="0.1" textLength="15" lengthAdjust="spacingAndGlyphs">100</text>
<text x="1648" y="755" font-size="10.0" fill="#000" stroke="#000" stroke-width="0.1" textLength="10" lengthAdjust="spacingAndGlyphs">80</text>
<text x="1648" y="786" font-size="10.0" fill="#000" stroke="#000" stroke-width="0.1" textLength="10" lengthAdjust="spacingAndGlyphs">50</text>
<text x="1648" y="822" font-size="10.0" fill="#000" stroke="#000" stroke-width="0.1" textLength="10" lengthAdjust="spacingAndGlyphs">15</text>
<text x="1648" y="831" font-size="10.0" fill="#000" stroke="#000" stroke-width="0.1" textLength="5" lengthAdjust="spacingAndGlyphs">0</text>
<rect x="5" y="835" width="1" height="3" fill="#000"/>
<text x="4" y="847" font-size="10.0" fill="#000" stroke="#000" stroke-width="0.1" textLength="51" lengthAdjust="spacingAndGlyphs">27 Apr 2023</text>
<rect x="69" y="835" width="1" height="3" fill="#000"/>
<text x="68" y="847" font-size="10.0" fill="#000" stroke="#000" stroke-width="0.1" textLength="54" lengthAdjust="spacingAndGlyphs">28 Apr 00:00</text>
<rect x="133" y="835" width="1" height="3" fill="#000"/>
<text x="132" y="847" font-size="10.0" fill="#000" stroke="#000" stroke-width="0.1" textLength="54" lengthAdjust="spacingAndGlyphs">28 Apr 18:55</text>
<rect x="197" y="835" width="1" height="3" fill="#000"/>
<text x="196" y="847" font-size="10.0" fill="#000" stroke="#000" stroke-width="0.1" textLength="53" lengthAdjust="spacingAndGlyphs">1 May 10:55</text>
<rect x="261" y="835" width="1" height="3" fill="#000"/>
<text x="260" y="847" font-size="10.0" fill="#000" stroke="#000" stroke-width="0.1" textLength="53" lengthAdjust="spacingAndGlyphs">2 May 00:00</text>
<rect x="325" y="835" width="1" height="3" fill="#000"/>
<text x="324" y="847" font-size="10.0" fill="#000" stroke="#000" stroke-width="0.1" textLength="53" lengthAdjust="spacingAndGlyphs">2 May 18:55</text>
<rect x="389" y="835" width="1" height="3" fill="#000"/>
<text x="388" y="847" font-size="10.0" fill="#000" stroke="#000" stroke-width="0.1" textLength="53" lengthAdjust="spacingAndGlyphs">3 May 10:55</text>
<rect x="453" y="835" width="1" height="3" fill="#000"/>
<text x="452" y="847" font-size="10.0" fill="#000" stroke="#000" stroke-width="0.1" textLength="53" lengthAdjust="spacingAndGlyphs">4 May 00:00</text>
<rect x="517" y="835" width="1" height="3" fill="#000"/>
<text x="516" y="847" font-size="10.0" fill="#000" stroke="#000" stroke-width="0.1" textLength="53" lengthAdjust="spacingAndGlyphs">4 May 18:55</text>
<rect x="581" y="835" width="1" height="3" fill="#000"/>
<text x="580" y="847" font-size="10.0" fill="#000" stroke="#000" stroke-width="0.1" textLength="53" lengthAdjust="spacingAndGlyphs">5 May 10:55</text>
<rect x="645" y="835" width="1" height="3" fill="#000"/>
<text x="644" y="847" font-size="10.0" fill="#000" stroke="#000" stroke-width="0.1" textLength="53" lengthAdjust="spacingAndGlyphs">8 May 00:00</text>
<rect x="709" y="835" width="1" height="3" fill="#000"/>
<text x="708" y="847" font-size="10.0" fill="#000" stroke="#000" stroke-width="0.1" textLength="53" lengthAdjust="spacingAndGlyphs">8 May 18:55</text>
<rect x="773" y="835" width="1" height="3" fill="#000"/>
<text x="772" y="847" font-size="10.0" fill="#000" stroke="#000" stroke-width="0.1" textLength="53" lengthAdjust="spacingAndGlyphs">9 May 10:55</text>
<rect x="837" y="835" width="1" height="3" fill="#000"/>
<text x="836" y="847" font-size="10.0" fill="#000" stroke="#000" stroke-width="0.1" textLength="58" lengthAdjust="spacingAndGlyphs">10 May 00:00</text>
<rect x="901" y="835" width="1" height="3" fill="#000"/>
<text x="900" y="847" font-size="10.0" fill="#000" stroke="#000" stroke-width="0.1" textLength="58" lengthAdjust="spacingAndGlyphs">10 May 18:55</text>
<rect x="965" y="835" width="1" height="3" fill="#000"/>
<text x="964" y="847" font-size="10.0" fill="#000" stroke="#000" stroke-width="0.1" textLength="58" lengthAdjust="spacingAndGlyphs">11 May 10:55</text>
<rect x="1029" y="835" width="1" height="3" fill="#000"/>
<text x="1028" y="847" font-size="10.0" fill="#000" stroke="#000" stroke-width="0.1" textLength="58" lengthAdjust="spacingAndGlyphs">12 May 00:00</text>
<rect x="1093" y="835" width="1" height="3" fill="#000"/>
<text x="1092" y="847" font-size="10.0" fill="#000" stroke="#000" stroke-width="0.1" textLength="58" lengthAdjust="spacingAndGlyphs">12 May 18:55</text>
<rect x="1157" y="835" width="1" height="3" fill="#000"/>
<text x="1156" y="847" font-size="10.0" fill="#000" stroke="#000" stroke-width="0.1" textLength="58" lengthAdjust="spacingAndGlyphs">15 May 10:55</text>
<rect x="1221" y="835" width="1" height="3" fill="#000"/>
<text x="1220" y="847" font-size="10.0" fill="#000" stroke="#000" stroke-width="0.1" textLength="58" lengthAdjust="spacingAndGlyphs">16 May 00:00</text>
<rect x="1285" y="835" width="1" height="3" fill="#000"/>
<text x="1284" y="847" font-size="10.0" fill="#000" stroke="#000" stroke-width="0.1" textLength="58" lengthAdjust="spacingAndGlyphs">16 May 18:55</text>
<rect x="1349" y="835" width="1" height="3" fill="#000"/>
<text x="1348" y="847" font-size="10.0" fill="#000" stroke="#000" stroke-width="0.1" textLength="58" lengthAdjust="spacingAndGlyphs">17 May 10:55</text>
<rect x="5" y="1" width="1" height="21" fill="#a0a0a0"/><rect x="6" y="1" width="1" height="21" fill="#fff"/>
<rect x="15.5" y="4.5" width="11" height="13" rx="1" fill="#fff" stroke="#707070" shape-rendering="auto"/>
<path d="M23,4.5 L26.5,8" stroke="#707070" fill="none" shape-rendering="auto"/>
<rect x="17" y="6" width="3" height="1.5" fill="#777"/>
<rect x="17" y="10" width="5" height="1" fill="#999"/><rect x="17" y="12" width="5" height="1" fill="#999"/><rect x="17" y="14" width="2" height="1" fill="#999"/>
<path d="M23.5,10.5 h3.5 v4 h4 v3.5 h-4 v4 h-3.5 v-4 h-4 v-3.5 h4 z" fill="#22d022" stroke="#0a8a0a" stroke-width="1" shape-rendering="auto"/>
<path transform="translate(34,5) scale(1,0.93)" d="M3.5,0 v1 M1,1.5 h5 M1.5,2.5 l1,1 M5.5,2.5 l-1,1 M0,4.5 h6.5 M1,6.5 h5 M3.5,4.5 v7 M3,8 l-2.5,2.5 M4,8.5 l2,2 M11.5,0.5 l-4,1.5 M7.5,1.5 v6 l-1,3.5 M7.5,5.5 h4.5 M10.5,5.5 v6.5" fill="none" stroke="#000" stroke-width="1.1" stroke-linecap="butt" shape-rendering="auto"/>
<path transform="translate(46.5,5) scale(1,0.93)" d="M1.5,0.5 l1,1.5 M0,4.5 h2.5 v5 l1.5,-1.5 M4.5,1.5 h7 M8.5,1.5 v9.5 l-2.5,-1" fill="none" stroke="#000" stroke-width="1.1" stroke-linecap="butt" shape-rendering="auto"/>
<path transform="translate(58.5,5) scale(1,0.93)" d="M3,0 l1,1.5 M9,0 l-1,1.5 M1.5,2.5 h9 v5 h-9 z M1.5,5 h9 M6,2.5 v9.5 M0,9.5 h12" fill="none" stroke="#000" stroke-width="1.1" stroke-linecap="butt" shape-rendering="auto"/>
<defs><linearGradient id="gold" x1="0" y1="0" x2="1" y2="1"><stop offset="0" stop-color="#ffe060"/><stop offset="1" stop-color="#d09010"/></linearGradient><linearGradient id="cloud" x1="0" y1="0" x2="0" y2="1"><stop offset="0" stop-color="#fff"/><stop offset="1" stop-color="#b8c4d8"/></linearGradient><linearGradient id="grn" x1="0" y1="0" x2="0" y2="1"><stop offset="0" stop-color="#60f060"/><stop offset="1" stop-color="#10b010"/></linearGradient><radialGradient id="redc" cx="0.45" cy="0.35" r="0.7"><stop offset="0" stop-color="#f05030"/><stop offset="1" stop-color="#c81808"/></radialGradient></defs>
<path d="M87.5,5.5 L96.5,11.5 L97.5,14.5 L90.5,19.5 L82.5,14 L86.5,9 Z" fill="url(#gold)" stroke="#a06008" stroke-width="1" shape-rendering="auto"/>
<path d="M84,13.5 L91,18" stroke="#f8e8a0" stroke-width="1" shape-rendering="auto"/>
<path d="M112.5,4.5 h9 l1.5,1.5 v8 h-10.5 z" fill="#1a8ef0" stroke="#1670d0" shape-rendering="auto"/>
<path d="M113,5 l2,2 v6" stroke="#bfe6ff" fill="none" shape-rendering="auto"/><rect x="117" y="9" width="4" height="1" fill="#cfefff"/>
<path d="M111,19.5 Q109.5,16 112.5,15.5 Q113.5,12.5 117,13 Q118.5,11.5 121,13 Q125.5,13 125.5,16.5 Q126,19.5 123,19.5 Z" fill="url(#cloud)" stroke="#3c5a94" stroke-width="1" shape-rendering="auto"/>
<g shape-rendering="auto"><circle cx="146" cy="12" r="7.3" fill="none" stroke="#7aa0d8" stroke-width="1"/><circle cx="146" cy="12" r="4.6" fill="none" stroke="#8ab0e0" stroke-width="1"/><path d="M146,4.7 A7.3,7.3 0 0 1 146.5,19.3" fill="none" stroke="#5aa85a" stroke-width="1.2"/><path d="M146,7.4 A4.6,4.6 0 0 1 149.5,15" fill="none" stroke="#90c890" stroke-width="1"/><circle cx="145.8" cy="11.6" r="1.8" fill="#2050c8"/><rect x="146" y="12" width="1.3" height="8" fill="#18a018"/></g>
<g shape-rendering="auto"><path d="M165.5,11 L181,11 L173,20 Z" fill="#f4d840" stroke="#c09010" stroke-width="1"/><ellipse cx="173" cy="8.5" rx="7.8" ry="2.8" fill="#6ab8e8" stroke="#2a80b8" stroke-width="1"/><ellipse cx="173" cy="6.5" rx="3.8" ry="2.5" fill="#80c8f0" stroke="#2a80b8" stroke-width="1"/><circle cx="177.5" cy="15.5" r="4.2" fill="url(#redc)" stroke="#a01000" stroke-width="0.8"/><rect x="176" y="14" width="3" height="3" fill="#fff"/></g>
<path transform="translate(187,5) scale(1,0.93)" d="M4.5,0 l-1,1.5 M1,1.5 h8.5 v9.5 h-8.5 z M1,4.6 h8.5 M1,7.8 h8.5" fill="none" stroke="#000" stroke-width="1.1" stroke-linecap="butt" shape-rendering="auto"/>
<path transform="translate(198.5,5) scale(1,0.93)" d="M0.5,1.5 h4 M0,4.3 h5 M2.6,4.3 L0.6,9.6 L5,8.6 M3.5,7 L5,9.8 M5.3,4 h5 v6.2 q0,1.5 -1.5,1.2 M7.9,0 v4 q0,4.5 -2.8,7.5" fill="none" stroke="#000" stroke-width="1.1" stroke-linecap="butt" shape-rendering="auto"/>
<path transform="translate(210.5,5) scale(1,0.93)" d="M5.5,0 v1.8 M0,2.5 h11 M3.5,4 l-2.2,2.5 M7.5,4 l2.2,2.5 M2.8,6 Q5.5,9.6 10.8,11.2 M8.2,6 Q5.5,9.6 0.2,11.2" fill="none" stroke="#000" stroke-width="1.1" stroke-linecap="butt" shape-rendering="auto"/>
<path transform="translate(222.5,5) scale(1,0.93)" d="M1.5,0.5 h7.5 v5 h-7.5 z M1.5,3 h7.5 M2.6,6.3 L0,9.2 M2,7.6 h8 v2.6 q0,1.5 -1.5,1.5 M5,7.6 l-3,3.6 M7.5,7.6 l-3,3.6" fill="none" stroke="#000" stroke-width="1.1" stroke-linecap="butt" shape-rendering="auto"/>
<rect x="241" y="1" width="1" height="21" fill="#a0a0a0"/><rect x="242" y="1" width="1" height="21" fill="#fff"/>
<rect x="245" y="3" width="4" height="1" fill="#b4b4b4"/>
<rect x="245" y="5" width="4" height="1" fill="#b4b4b4"/>
<rect x="245" y="7" width="4" height="1" fill="#b4b4b4"/>
<rect x="245" y="9" width="4" height="1" fill="#b4b4b4"/>
<rect x="245" y="11" width="4" height="1" fill="#b4b4b4"/>
<rect x="245" y="13" width="4" height="1" fill="#b4b4b4"/>
<rect x="245" y="15" width="4" height="1" fill="#b4b4b4"/>
<rect x="245" y="17" width="4" height="1" fill="#b4b4b4"/>
<rect x="245" y="19" width="4" height="1" fill="#b4b4b4"/>
<rect x="245" y="21" width="4" height="1" fill="#b4b4b4"/>
<rect x="259" y="6" width="1.4" height="14" fill="#505050"/>
<rect x="257" y="17" width="13" height="1.4" fill="#505050"/>
<polygon points="257.7,8.5 259.7,5 261.7,8.5" fill="#505050" shape-rendering="auto"/>
<polygon points="269,15.2 272.5,17.7 269,20.2" fill="#505050" shape-rendering="auto"/>
<rect x="265" y="7" width="1" height="9" fill="#109010"/><rect x="263" y="14" width="2" height="1" fill="#109010"/><rect x="266" y="8" width="2" height="1" fill="#109010"/>
<rect x="279" y="0" width="25" height="22" fill="#f9f9f9"/>
<rect x="279" y="0" width="25" height="1" fill="#9a9a9a"/>
<rect x="279" y="0" width="1" height="22" fill="#9a9a9a"/>
<rect x="304" y="0" width="1" height="23" fill="#fff"/>
<rect x="279" y="22" width="26" height="1" fill="#fff"/>
<rect x="287" y="6" width="1.4" height="14" fill="#505050"/>
<rect x="285" y="17" width="13" height="1.4" fill="#505050"/>
<polygon points="285.7,8.5 287.7,5 289.7,8.5" fill="#505050" shape-rendering="auto"/>
<polygon points="297,15.2 300.5,17.7 297,20.2" fill="#505050" shape-rendering="auto"/>
<rect x="293" y="4" width="1" height="12" fill="#109010"/><rect x="291" y="6" width="5" height="8" fill="url(#grn)" stroke="#109010" stroke-width="1" shape-rendering="auto"/>
<rect x="315" y="6" width="1.4" height="14" fill="#505050"/>
<rect x="313" y="17" width="13" height="1.4" fill="#505050"/>
<polygon points="313.7,8.5 315.7,5 317.7,8.5" fill="#505050" shape-rendering="auto"/>
<polygon points="325,15.2 328.5,17.7 325,20.2" fill="#505050" shape-rendering="auto"/>
<path d="M314.5,14.5 Q318,8 320,9 Q322,9.5 325.5,13" fill="none" stroke="#189018" stroke-width="1" shape-rendering="auto"/>
<rect x="336" y="1" width="1" height="21" fill="#a0a0a0"/><rect x="337" y="1" width="1" height="21" fill="#fff"/>
<g shape-rendering="auto"><path d="M355,14 L360,19" stroke="#a07008" stroke-width="3.2"/><path d="M355,14 L360,19" stroke="#f0d040" stroke-width="1.6"/><circle cx="351" cy="10" r="5.6" fill="#dff3fc" stroke="#3a7bc8" stroke-width="1"/><rect x="348" y="9" width="7" height="2" fill="#4a88b0"/>
<rect x="350.5" y="7" width="2" height="7" fill="#4a88b0"/>
</g>
<g shape-rendering="auto"><path d="M383,14 L388,19" stroke="#a07008" stroke-width="3.2"/><path d="M383,14 L388,19" stroke="#f0d040" stroke-width="1.6"/><circle cx="379" cy="10" r="5.6" fill="#dff3fc" stroke="#3a7bc8" stroke-width="1"/><rect x="376" y="9" width="7" height="2" fill="#4a88b0"/>
</g>
<rect x="401" y="4" width="8" height="8" fill="#2aa020"/><rect x="402.5" y="7" width="5" height="3.5" fill="#fff"/>
<rect x="409" y="4" width="8" height="8" fill="#1a50d0"/><rect x="410.5" y="7" width="5" height="3.5" fill="#fff"/>
<rect x="401" y="12" width="8" height="8" fill="#1a50d0"/><rect x="402.5" y="15" width="5" height="3.5" fill="#fff"/>
<rect x="409" y="12" width="8" height="8" fill="#2aa020"/><rect x="410.5" y="15" width="5" height="3.5" fill="#fff"/>
<rect x="426" y="1" width="1" height="21" fill="#a0a0a0"/><rect x="427" y="1" width="1" height="21" fill="#fff"/>
<rect x="431" y="0" width="25" height="22" fill="#f9f9f9"/>
<rect x="431" y="0" width="25" height="1" fill="#9a9a9a"/>
<rect x="431" y="0" width="1" height="22" fill="#9a9a9a"/>
<rect x="456" y="0" width="1" height="23" fill="#fff"/>
<rect x="431" y="22" width="26" height="1" fill="#fff"/>
<rect x="439" y="6" width="1.4" height="14" fill="#505050"/>
<rect x="437" y="17" width="13" height="1.4" fill="#505050"/>
<polygon points="437.7,8.5 439.7,5 441.7,8.5" fill="#505050" shape-rendering="auto"/>
<polygon points="449,15.2 452.5,17.7 449,20.2" fill="#505050" shape-rendering="auto"/>
<polygon points="444,8 448,11.5 444,15" fill="#60d060" stroke="#109010" stroke-width="1" shape-rendering="auto"/>
<rect x="459" y="0" width="25" height="22" fill="#f9f9f9"/>
<rect x="459" y="0" width="25" height="1" fill="#9a9a9a"/>
<rect x="459" y="0" width="1" height="22" fill="#9a9a9a"/>
<rect x="484" y="0" width="1" height="23" fill="#fff"/>
<rect x="459" y="22" width="26" height="1" fill="#fff"/>
<rect x="467" y="6" width="1.4" height="14" fill="#505050"/>
<rect x="465" y="17" width="13" height="1.4" fill="#505050"/>
<polygon points="465.7,8.5 467.7,5 469.7,8.5" fill="#505050" shape-rendering="auto"/>
<polygon points="477,15.2 480.5,17.7 477,20.2" fill="#505050" shape-rendering="auto"/>
<rect x="473" y="6" width="1" height="10" fill="#1a6aa0"/>
<polygon points="474.5,11.5 478,9 478,14" fill="#e05010" shape-rendering="auto"/><rect x="477" y="11" width="2.5" height="1" fill="#c04010"/>
<rect x="488" y="1" width="1" height="21" fill="#a0a0a0"/><rect x="489" y="1" width="1" height="21" fill="#fff"/>
<rect x="498.5" y="4.5" width="11" height="13" rx="1" fill="#fff" stroke="#707070" shape-rendering="auto"/>
<path d="M505.5,4.5 L509.5,8.5" stroke="#707070" fill="none" shape-rendering="auto"/>
<path d="M501.5,8 v6" stroke="#444" shape-rendering="auto"/>
<path d="M505.5,10.5 h3.5 v4 h4 v3.5 h-4 v4 h-3.5 v-4 h-4 v-3.5 h4 z" fill="#22d022" stroke="#0a8a0a" stroke-width="1" shape-rendering="auto"/>
<polygon points="519.5,11 525.5,11 522.5,14" fill="#000" shape-rendering="auto"/>
<g shape-rendering="auto"><circle cx="544" cy="12" r="7" fill="#fff" stroke="#1068c8" stroke-width="2.2"/><circle cx="544" cy="12" r="8" fill="none" stroke="#0a4a9a" stroke-width="0.6"/><path d="M543.5,8 V12.5 H546.5" stroke="#222" stroke-width="1.1" fill="none"/></g>
<polygon points="558.5,11 564.5,11 561.5,14" fill="#000" shape-rendering="auto"/>
<rect x="575.5" y="5.5" width="15" height="13" fill="#fff" stroke="#3a78c8" stroke-width="1" shape-rendering="auto"/>
<rect x="576" y="6" width="14" height="2" fill="#5a98e0"/><rect x="576" y="13" width="14" height="1" fill="#3a78c8"/>
<path d="M577,11.5 l2,0 l2,-1 l2,0.5 l2,-1 l2,0.5 l2,-1" stroke="#a02010" fill="none" stroke-width="1.1" shape-rendering="auto"/>
<path d="M577,16.5 l2,-0.5 l2,0.5 l2,-1 l2,0.5 l2,-2 l2,2" stroke="#109010" fill="none" stroke-width="1.1" shape-rendering="auto"/>
<polygon points="597.5,11 603.5,11 600.5,14" fill="#000" shape-rendering="auto"/>
<rect x="609" y="1" width="1" height="21" fill="#a0a0a0"/><rect x="610" y="1" width="1" height="21" fill="#fff"/>
<rect x="613" y="3" width="4" height="1" fill="#b4b4b4"/>
<rect x="613" y="5" width="4" height="1" fill="#b4b4b4"/>
<rect x="613" y="7" width="4" height="1" fill="#b4b4b4"/>
<rect x="613" y="9" width="4" height="1" fill="#b4b4b4"/>
<rect x="613" y="11" width="4" height="1" fill="#b4b4b4"/>
<rect x="613" y="13" width="4" height="1" fill="#b4b4b4"/>
<rect x="613" y="15" width="4" height="1" fill="#b4b4b4"/>
<rect x="613" y="17" width="4" height="1" fill="#b4b4b4"/>
<rect x="613" y="19" width="4" height="1" fill="#b4b4b4"/>
<rect x="613" y="21" width="4" height="1" fill="#b4b4b4"/>
<rect x="619" y="0" width="25" height="22" fill="#f9f9f9"/>
<rect x="619" y="0" width="25" height="1" fill="#9a9a9a"/>
<rect x="619" y="0" width="1" height="22" fill="#9a9a9a"/>
<rect x="644" y="0" width="1" height="23" fill="#fff"/>
<rect x="619" y="22" width="26" height="1" fill="#fff"/>
<path d="M627,5.5 L627,17 L629.5,14.5 L631.5,19 L633.5,18 L631.5,13.5 L635,13.5 Z" fill="#444" shape-rendering="auto"/>
<rect x="659" y="5" width="1" height="15" fill="#555"/><rect x="652" y="12" width="15" height="1" fill="#555"/>
<rect x="676" y="1" width="1" height="21" fill="#a0a0a0"/><rect x="677" y="1" width="1" height="21" fill="#fff"/>
<rect x="693" y="6" width="1" height="13" fill="#555"/>
<rect x="716" y="12" width="12" height="1" fill="#555"/>
<path d="M744,19 L756,7" stroke="#555" stroke-width="1" shape-rendering="auto"/>
<g shape-rendering="auto" stroke="#555" stroke-width="1" fill="none"><path d="M770,12 L782,4"/><path d="M771,16 L783,8"/><path d="M773,8 L775,18 M776,6 L778,16 M779,4.5 L781,14"/></g>
<text x="782" y="21" font-size="6.5" font-weight="bold" fill="#444">E</text>
<rect x="799" y="5" width="1" height="1" fill="#555"/>
<rect x="801" y="5" width="1" height="1" fill="#555"/>
<rect x="803" y="5" width="1" height="1" fill="#555"/>
<rect x="805" y="5" width="1" height="1" fill="#555"/>
<rect x="807" y="5" width="1" height="1" fill="#555"/>
<rect x="809" y="5" width="1" height="1" fill="#555"/>
<rect x="811" y="5" width="1" height="1" fill="#555"/>
<rect x="799" y="8" width="1" height="1" fill="#555"/>
<rect x="801" y="8" width="1" height="1" fill="#555"/>
<rect x="803" y="8" width="1" height="1" fill="#555"/>
<rect x="805" y="8" width="1" height="1" fill="#555"/>
<rect x="807" y="8" width="1" height="1" fill="#555"/>
<rect x="809" y="8" width="1" height="1" fill="#555"/>
<rect x="811" y="8" width="1" height="1" fill="#555"/>
<rect x="799" y="12" width="1" height="1" fill="#555"/>
<rect x="801" y="12" width="1" height="1" fill="#555"/>
<rect x="803" y="12" width="1" height="1" fill="#555"/>
<rect x="805" y="12" width="1" height="1" fill="#555"/>
<rect x="807" y="12" width="1" height="1" fill="#555"/>
<rect x="809" y="12" width="1" height="1" fill="#555"/>
<rect x="811" y="12" width="1" height="1" fill="#555"/>
<rect x="799" y="16" width="1" height="1" fill="#555"/>
<rect x="801" y="16" width="1" height="1" fill="#555"/>
<rect x="803" y="16" width="1" height="1" fill="#555"/>
<rect x="805" y="16" width="1" height="1" fill="#555"/>
<text x="808" y="21" font-size="6.5" font-weight="bold" fill="#444">F</text>
<text x="829.5" y="17" font-size="12" fill="#555">A</text>
<rect x="856" y="6" width="1" height="1" fill="#555"/><rect x="856" y="18" width="1" height="1" fill="#555"/>
<rect x="858" y="6" width="1" height="1" fill="#555"/><rect x="858" y="18" width="1" height="1" fill="#555"/>
<rect x="860" y="6" width="1" height="1" fill="#555"/><rect x="860" y="18" width="1" height="1" fill="#555"/>
<rect x="862" y="6" width="1" height="1" fill="#555"/><rect x="862" y="18" width="1" height="1" fill="#555"/>
<rect x="864" y="6" width="1" height="1" fill="#555"/><rect x="864" y="18" width="1" height="1" fill="#555"/>
<rect x="866" y="6" width="1" height="1" fill="#555"/><rect x="866" y="18" width="1" height="1" fill="#555"/>
<rect x="868" y="6" width="1" height="1" fill="#555"/><rect x="868" y="18" width="1" height="1" fill="#555"/>
<rect x="856" y="6" width="1" height="1" fill="#555"/><rect x="868" y="6" width="1" height="1" fill="#555"/>
<rect x="856" y="8" width="1" height="1" fill="#555"/><rect x="868" y="8" width="1" height="1" fill="#555"/>
<rect x="856" y="10" width="1" height="1" fill="#555"/><rect x="868" y="10" width="1" height="1" fill="#555"/>
<rect x="856" y="12" width="1" height="1" fill="#555"/><rect x="868" y="12" width="1" height="1" fill="#555"/>
<rect x="856" y="14" width="1" height="1" fill="#555"/><rect x="868" y="14" width="1" height="1" fill="#555"/>
<rect x="856" y="16" width="1" height="1" fill="#555"/><rect x="868" y="16" width="1" height="1" fill="#555"/>
<rect x="856" y="18" width="1" height="1" fill="#555"/><rect x="868" y="18" width="1" height="1" fill="#555"/>
<rect x="858" y="9" width="8" height="1.5" fill="#555"/><rect x="861" y="9" width="2" height="8" fill="#555"/>
<g shape-rendering="auto" fill="#555"><polygon points="883,9.5 886.5,6 890,9.5"/><polygon points="890,16 897,16 893.5,19.5"/><path d="M885,13 L887.5,15.5 L892,11" stroke="#555" stroke-width="1.3" fill="none"/></g>
<polygon points="903.5,11 909.5,11 906.5,14" fill="#000" shape-rendering="auto"/>
<rect x="915" y="1" width="1" height="21" fill="#a0a0a0"/><rect x="916" y="1" width="1" height="21" fill="#fff"/>
<rect x="919" y="3" width="4" height="1" fill="#b4b4b4"/>
<rect x="919" y="5" width="4" height="1" fill="#b4b4b4"/>
<rect x="919" y="7" width="4" height="1" fill="#b4b4b4"/>
<rect x="919" y="9" width="4" height="1" fill="#b4b4b4"/>
<rect x="919" y="11" width="4" height="1" fill="#b4b4b4"/>
<rect x="919" y="13" width="4" height="1" fill="#b4b4b4"/>
<rect x="919" y="15" width="4" height="1" fill="#b4b4b4"/>
<rect x="919" y="17" width="4" height="1" fill="#b4b4b4"/>
<rect x="919" y="19" width="4" height="1" fill="#b4b4b4"/>
<rect x="919" y="21" width="4" height="1" fill="#b4b4b4"/>
<rect x="1065" y="0" width="25" height="22" fill="#f9f9f9"/>
<rect x="1065" y="0" width="25" height="1" fill="#9a9a9a"/>
<rect x="1065" y="0" width="1" height="22" fill="#9a9a9a"/>
<rect x="1090" y="0" width="1" height="23" fill="#fff"/>
<rect x="1065" y="22" width="26" height="1" fill="#fff"/>
<text x="930" y="16" font-size="10" fill="#333">M1</text>
<text x="958.5" y="16" font-size="10" fill="#333">M5</text>
<text x="984" y="16" font-size="10" fill="#333">M15</text>
<text x="1012.5" y="16" font-size="10" fill="#333">M30</text>
<text x="1043" y="16" font-size="10" fill="#333">H1</text>
<text x="1070" y="16" font-size="10" fill="#333">H4</text>
<text x="1099.5" y="16" font-size="10" fill="#333">D1</text>
<text x="1127" y="16" font-size="10" fill="#333">W1</text>
<text x="1153.5" y="16" font-size="10" fill="#333">MN</text>
<rect x="1176" y="1" width="1" height="21" fill="#a0a0a0"/><rect x="1177" y="1" width="1" height="21" fill="#fff"/>
<g shape-rendering="auto"><circle cx="1646.5" cy="9.3" r="3.6" fill="#fff" stroke="#2a5ad0" stroke-width="1.3"/><path d="M1643.8,12 L1639.7,16.2" stroke="#2a5ad0" stroke-width="2.4" stroke-linecap="round"/></g>
<g shape-rendering="auto"><ellipse cx="1668.5" cy="14" rx="5.5" ry="4.5" fill="#e4e6ee" stroke="#9a9a9a" stroke-width="1"/><path d="M1665.5,17.5 L1666.5,20.5 L1668.5,18" fill="#c8c8d0" stroke="#888" stroke-width="0.8"/><circle cx="1677.5" cy="9.3" r="8.3" fill="url(#redc)"/><text x="1674.2" y="14" font-size="11.5" font-weight="bold" fill="#fff" font-family="Liberation Serif, serif">1</text></g>
</svg>
</body></html>
